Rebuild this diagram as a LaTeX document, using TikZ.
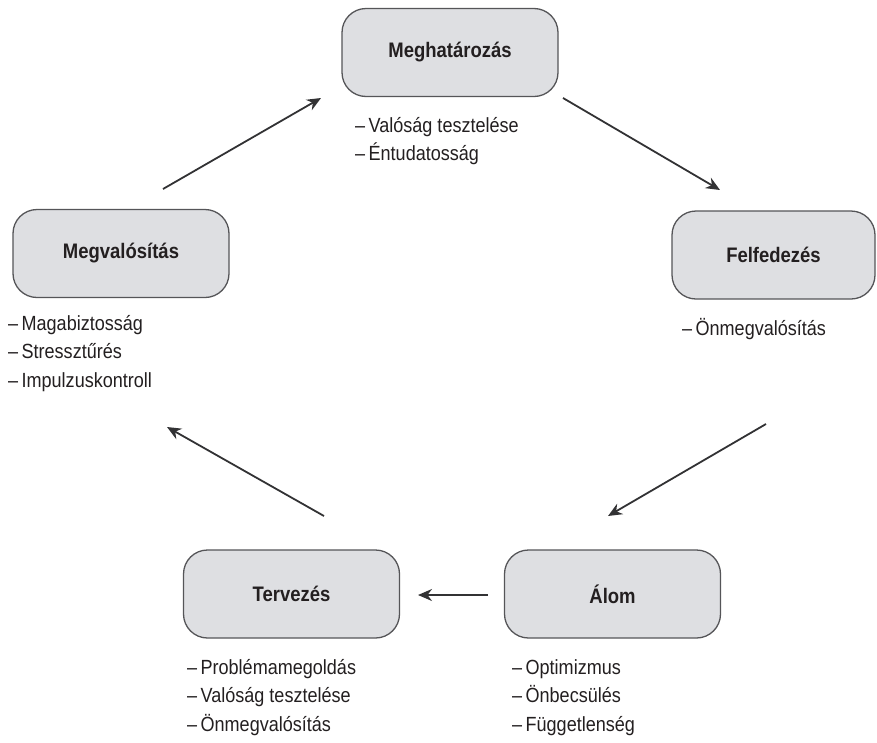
\documentclass[tikz,border=0pt]{standalone}
\usepackage{fontspec}
\setmainfont[FakeStretch=0.88]{Liberation Sans}
\usetikzlibrary{arrows.meta,positioning}
\usepackage{xcolor}
\definecolor{inkdark}{RGB}{35,31,32}
\definecolor{boxgray}{RGB}{222,223,226}
\definecolor{rimgray}{RGB}{85,85,88}
\definecolor{arrgray}{RGB}{50,50,52}

\begin{document}
\begin{tikzpicture}[x=1pt,y=-1pt,
  % rounded grey stage boxes
  stage/.style={draw=rimgray,fill=boxgray,rectangle,rounded corners=24pt,
                line width=1.3pt,minimum width=216pt,minimum height=88pt,
                font=\fontsize{21}{24}\selectfont\bfseries,text=inkdark},
  % list of skills under each stage
  skills/.style={anchor=north west,align=left,inner sep=0pt,text=inkdark,
                 font=\fontsize{20.5}{28.5}\selectfont},
  arr/.style={-{Stealth[length=14pt,width=12pt]},draw=arrgray,line width=1.8pt}
]
  \useasboundingbox (0,0) rectangle (877,742);

  % ---- Stages ----
  \node[stage] (megh) at (450,52.5)  {Meghatározás};
  \node[stage] (felf) at (773.5,255) [minimum width=203pt] {Felfedezés};
  \node[stage] (alom) at (612.5,594) {Álom};
  \node[stage] (terv) at (291.5,594) {Tervezés};
  \node[stage] (megv) at (121,253.5) {Megvalósítás};

  % ---- Skill lists ----
  \node[skills] (meghL) at (355,117) {--\,Valóság tesztelése\\--\,Éntudatosság};
  \node[skills] (felfL) at (682,318) {--\,Önmegvalósítás};
  \node[skills] (alomL) at (512,659) {--\,Optimizmus\\--\,Önbecsülés\\--\,Függetlenség};
  \node[skills] (tervL) at (187,659) {--\,Problémamegoldás\\--\,Valóság tesztelése\\--\,Önmegvalósítás};
  \node[skills] (megvL) at (8,315)   {--\,Magabiztosság\\--\,Stressztűrés\\--\,Impulzuskontroll};

  % ---- Arrow ends (arrows float between the stages) ----
  \coordinate (megvOut) at (163,189);
  \coordinate (meghIn)  at (321,98);
  \coordinate (meghOut) at (563,98);
  \coordinate (felfIn)  at (720,190);
  \coordinate (felfOut) at (766,424);
  \coordinate (alomIn)  at (608,516);
  \coordinate (alomOut) at (488,595);
  \coordinate (tervIn)  at (418,595);
  \coordinate (tervOut) at (324,516);
  \coordinate (megvIn)  at (167,427);

  % ---- Cycle ----
  \draw[arr] (megvOut) -- (meghIn);
  \draw[arr] (meghOut) -- (felfIn);
  \draw[arr] (felfOut) -- (alomIn);
  \draw[arr] (alomOut) -- (tervIn);
  \draw[arr] (tervOut) -- (megvIn);
\end{tikzpicture}
\end{document}
